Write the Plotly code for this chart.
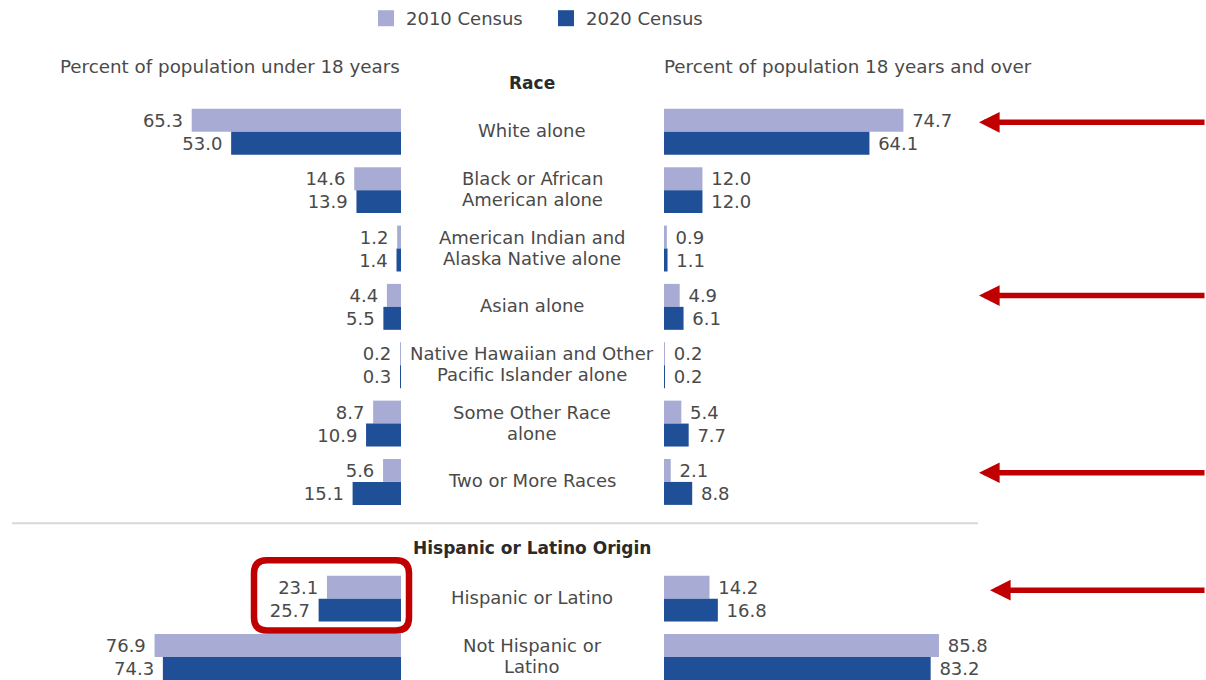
import plotly.graph_objects as go

# Census race / Hispanic origin shares, 2010 vs 2020
categories = [
    "White alone",
    "Black or African<br>American alone",
    "American Indian and<br>Alaska Native alone",
    "Asian alone",
    "Native Hawaiian and Other<br>Pacific Islander alone",
    "Some Other Race<br>alone",
    "Two or More Races",
    "Hispanic or Latino",
    "Not Hispanic or<br>Latino",
]
row_pos = [0, 1, 2, 3, 4, 5, 6, 8, 9]

under18_2010 = [65.3, 14.6, 1.2, 4.4, 0.2, 8.7, 5.6, 23.1, 76.9]
under18_2020 = [53.0, 13.9, 1.4, 5.5, 0.3, 10.9, 15.1, 25.7, 74.3]
adult_2010 = [74.7, 12.0, 0.9, 4.9, 0.2, 5.4, 2.1, 14.2, 85.8]
adult_2020 = [64.1, 12.0, 1.1, 6.1, 0.2, 7.7, 8.8, 16.8, 83.2]

series_names = ["2010 Census", "2020 Census"]
series_colors = ["#A8ACD4", "#1F4F97"]

W, H = 1206, 680
FONT = "DejaVu Sans"
TEXT_GRAY = "#4a4a4a"
RED = "#C00000"


def px(x):
    return x / W


def py(y):
    return 1 - y / H


fig = go.Figure()

for name, color, left_vals, right_vals in [
    (series_names[0], series_colors[0], under18_2010, adult_2010),
    (series_names[1], series_colors[1], under18_2020, adult_2020),
]:
    fig.add_trace(go.Bar(
        x=left_vals, y=row_pos, orientation="h", name=name,
        marker=dict(color=color, line=dict(width=0)),
        texttemplate="%{x:.1f}\u00a0", textposition="outside",
        textfont=dict(family=FONT, size=18, color=TEXT_GRAY),
        constraintext="none", cliponaxis=False,
        xaxis="x", yaxis="y", showlegend=False, hoverinfo="skip",
    ))
    fig.add_trace(go.Bar(
        x=right_vals, y=row_pos, orientation="h", name=name,
        marker=dict(color=color, line=dict(width=0)),
        texttemplate="\u00a0%{x:.1f}", textposition="outside",
        textfont=dict(family=FONT, size=18, color=TEXT_GRAY),
        constraintext="none", cliponaxis=False,
        xaxis="x2", yaxis="y", showlegend=False, hoverinfo="skip",
    ))

# legend keys with larger square swatches
for name, color in zip(series_names, series_colors):
    fig.add_trace(go.Scatter(
        x=[None], y=[None], mode="markers", name=name,
        marker=dict(symbol="square", size=17, color=color),
        xaxis="x", yaxis="y", showlegend=True, hoverinfo="skip",
    ))

annotations = []
# row labels in the centre column, one annotation per text line
LINE_STEP = 21
for label, pos in zip(categories, row_pos):
    lines = label.split("<br>")
    n = len(lines)
    for k, line in enumerate(lines):
        shift = ((n - 1) / 2 - k) * LINE_STEP + 1
        annotations.append(dict(
            x=px(532), xref="paper", y=pos, yref="y", text=line,
            showarrow=False, xanchor="center", yanchor="middle",
            yshift=shift,
            font=dict(family=FONT, size=18, color=TEXT_GRAY),
        ))

# panel titles and section headers
annotations += [
    dict(x=px(230), y=py(66), xref="paper", yref="paper",
         text="Percent of population under 18 years", showarrow=False,
         xanchor="center", yanchor="middle",
         font=dict(family=FONT, size=18.3, color=TEXT_GRAY)),
    dict(x=px(848), y=py(66), xref="paper", yref="paper",
         text="Percent of population 18 years and over", showarrow=False,
         xanchor="center", yanchor="middle",
         font=dict(family=FONT, size=18.3, color=TEXT_GRAY)),
    dict(x=px(532), y=py(82), xref="paper", yref="paper",
         text="<b>Race</b>", showarrow=False,
         xanchor="center", yanchor="middle",
         font=dict(family=FONT, size=17, color="#2a2a2a")),
    dict(x=px(532), y=py(548), xref="paper", yref="paper",
         text="<b>Hispanic or Latino Origin</b>", showarrow=False,
         xanchor="center", yanchor="middle",
         font=dict(family=FONT, size=17, color="#2a2a2a")),
]

# red call-out arrows pointing at the right-hand panel
for tip_x, tip_y in [(979, 121.5), (979, 295), (979, 472.5), (990, 590)]:
    annotations.append(dict(
        x=px(tip_x), y=py(tip_y), xref="paper", yref="paper", text="",
        showarrow=True, ax=1215 - tip_x, ay=0, axref="pixel", ayref="pixel",
        arrowhead=2, arrowsize=0.75, arrowwidth=5.5, arrowcolor=RED,
        standoff=0,
    ))

# rounded highlight box around the Hispanic under-18 bars
x0, y0, x1, y1, r = 254, 560, 409, 630.5, 13
box = (
    f"M {px(x0 + r)},{py(y0)} L {px(x1 - r)},{py(y0)} "
    f"Q {px(x1)},{py(y0)} {px(x1)},{py(y0 + r)} "
    f"L {px(x1)},{py(y1 - r)} Q {px(x1)},{py(y1)} {px(x1 - r)},{py(y1)} "
    f"L {px(x0 + r)},{py(y1)} Q {px(x0)},{py(y1)} {px(x0)},{py(y1 - r)} "
    f"L {px(x0)},{py(y0 + r)} Q {px(x0)},{py(y0)} {px(x0 + r)},{py(y0)} Z"
)
shapes = [
    dict(type="line", xref="paper", yref="paper",
         x0=px(12), x1=px(978), y0=py(523), y1=py(523),
         line=dict(color="#d8d8d8", width=2)),
    dict(type="path", xref="paper", yref="paper", path=box,
         line=dict(color=RED, width=6.5), fillcolor="rgba(0,0,0,0)"),
]

fig.update_layout(
    width=W, height=H,
    margin=dict(l=0, r=0, t=0, b=0),
    paper_bgcolor="white", plot_bgcolor="white",
    barmode="group", bargap=0.213, bargroupgap=0,
    xaxis=dict(domain=[0, px(401)], range=[401 / 3.205, 0], visible=False,
               fixedrange=True),
    xaxis2=dict(domain=[px(664), 1], range=[0, 542 / 3.205], visible=False,
                anchor="y", fixedrange=True),
    yaxis=dict(range=[549 / 58.44, -131 / 58.44], visible=False,
               fixedrange=True),
    legend=dict(orientation="h", x=px(366), xanchor="left", y=py(-1),
                yanchor="top", entrywidth=135, entrywidthmode="pixels",
                itemsizing="trace",
                font=dict(family=FONT, size=18, color=TEXT_GRAY),
                bgcolor="rgba(0,0,0,0)", traceorder="normal"),
    annotations=annotations,
    shapes=shapes,
    showlegend=True,
)

fig.write_html("out.html")
